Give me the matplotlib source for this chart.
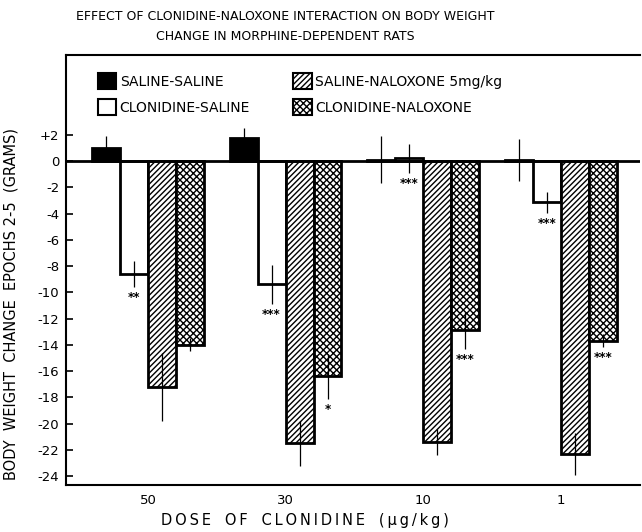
import numpy as np
import matplotlib
matplotlib.use("Agg")
import matplotlib.pyplot as plt
from matplotlib.patches import Patch

# data (grams)
doses = ["50", "30", "10", "1"]
groups = ["SALINE-SALINE", "CLONIDINE-SALINE", "SALINE-NALOXONE 5mg/kg", "CLONIDINE-NALOXONE"]
saline_saline = [1.0, 1.75, 0.1, 0.1]
saline_saline_err = [0.9, 0.8, 1.8, 1.6]
clon_saline = [-8.6, -9.4, 0.2, -3.15]
clon_saline_err = [1.0, 1.5, 1.1, 0.8]
sal_nalox = [-17.2, -21.5, -21.4, -22.3]
sal_nalox_err = [2.6, 1.7, 1.0, 1.6]
clon_nalox = [-14.0, -16.4, -12.9, -13.7]
clon_nalox_err = [0.5, 1.7, 1.4, 0.5]
stars_cs = ["**", "***", "***", "***"]
stars_cn = ["", "*", "***", "***"]

plt.rcParams['hatch.linewidth'] = 1.0
plt.rcParams['font.family'] = 'DejaVu Sans'

def spaced(s):
    # wide letter tracking like the typed original
    return "\u2009".join(s)

fig = plt.figure(figsize=(6.42, 5.32), dpi=100)
ax = fig.add_axes([0.103, 0.088, 0.894, 0.809])

gap = 4.92
x0 = np.arange(len(doses)) * gap
series = [saline_saline, clon_saline, sal_nalox, clon_nalox]
errs = [saline_saline_err, clon_saline_err, sal_nalox_err, clon_nalox_err]
faces = ['black', 'white', 'white', 'white']
hatches = [None, None, '//////', 'xxxxx']

for i in range(4):
    x = x0 + i
    ax.bar(x, series[i], width=1.0, align='edge', color=faces[i], edgecolor='black',
           linewidth=2, hatch=hatches[i], zorder=2)
    ax.errorbar(x + 0.5, series[i], yerr=errs[i], fmt='none', ecolor='black',
                elinewidth=0.9, capsize=0, zorder=3)

# significance marks below error bars
for k in range(len(doses)):
    if stars_cs[k]:
        ax.text(x0[k] + 1.5, clon_saline[k] - clon_saline_err[k] - 0.8, stars_cs[k],
                ha='center', va='center', fontsize=8.5, fontweight='bold')
    if stars_cn[k]:
        ax.text(x0[k] + 3.5, clon_nalox[k] - clon_nalox_err[k] - 0.8, stars_cn[k],
                ha='center', va='center', fontsize=8.5, fontweight='bold')

ax.axhline(0, color='black', linewidth=2, zorder=4)

ax.set_xlim(-0.93, 19.6)
ax.set_ylim(-24.7, 8.1)
yt = np.arange(2, -25, -2)
ax.set_yticks(yt)
ax.set_yticklabels(["+2" if v > 0 else str(v) for v in yt], fontsize=9.5)
ax.tick_params(axis='y', direction='in', length=5, width=1.2, pad=5)
ax.set_xticks(x0 + 2)
ax.set_xticklabels(doses, fontsize=9.5)
ax.tick_params(axis='x', length=0, pad=6)
ax.spines['right'].set_visible(False)
for s in ['left', 'top', 'bottom']:
    ax.spines[s].set_linewidth(1.5)

handles = [Patch(facecolor=faces[i], edgecolor='black', linewidth=1.5, hatch=hatches[i])
           for i in range(4)]
ax.legend(handles, groups, loc='upper left', ncol=2, frameon=False, fontsize=10,
          handlelength=1.35, handleheight=1.4, handletextpad=0.25, columnspacing=3.1,
          borderaxespad=0.0, bbox_to_anchor=(0.045, 0.97), labelspacing=0.7)

ax.set_ylabel("BODY  WEIGHT  CHANGE  EPOCHS 2-5  (GRAMS)", fontsize=10.5)
ax.yaxis.set_label_coords(-0.083, 0.42)
ax.set_xlabel(spaced("DOSE") + "   " + spaced("OF") + "   " + spaced("CLONIDINE") + "   " + spaced("(μg/kg)"),
              fontsize=10.5)
ax.xaxis.set_label_coords(0.416, -0.065)
fig.text(0.445, 0.95, "EFFECT OF CLONIDINE-NALOXONE INTERACTION ON BODY WEIGHT\nCHANGE IN MORPHINE-DEPENDENT RATS",
         ha='center', va='center', fontsize=9, linespacing=1.7)

fig.savefig("out.png", dpi=100)
